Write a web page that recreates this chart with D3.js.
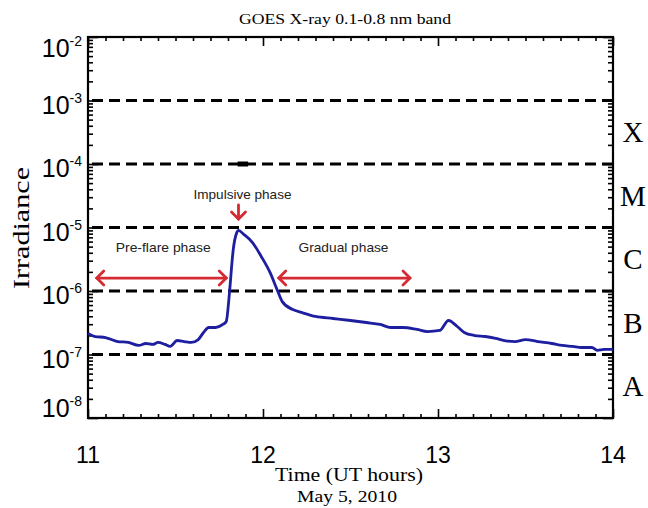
<!DOCTYPE html>
<html><head><meta charset="utf-8">
<script src="https://cdn.jsdelivr.net/npm/d3@7"></script>
<style>body{margin:0;background:#fff}svg{display:block}</style>
</head><body>
<svg id="c" width="648" height="508"></svg>
<script>
// ---- data ----
const times = [11.00,11.04,11.10,11.17,11.23,11.29,11.33,11.37,11.40,11.44,11.47,11.51,11.55,11.59,11.63,11.66,11.69,11.73,11.77,11.79,11.805,11.81,11.83,11.85,11.86,11.89,11.94,11.99,12.04,12.08,12.11,12.17,12.22,12.30,12.40,12.50,12.59,12.67,12.73,12.80,12.88,12.94,13.01,13.06,13.11,13.15,13.21,13.27,13.33,13.38,13.44,13.50,13.57,13.65,13.71,13.77,13.82,13.88,13.91,13.95,14.00];
const irradiance = [2.14e-7,1.92e-7,1.85e-7,1.60e-7,1.55e-7,1.39e-7,1.49e-7,1.44e-7,1.55e-7,1.44e-7,1.34e-7,1.66e-7,1.60e-7,1.55e-7,1.72e-7,2.22e-7,2.66e-7,2.66e-7,2.97e-7,3.31e-7,7.4e-7,1.06e-6,4.5e-6,8.3e-6,9.0e-6,7.8e-6,5.8e-6,3.5e-6,1.96e-6,1.06e-6,6.8e-7,5.1e-7,4.6e-7,3.97e-7,3.69e-7,3.43e-7,3.19e-7,2.97e-7,2.66e-7,2.66e-7,2.48e-7,2.30e-7,2.39e-7,3.43e-7,2.76e-7,2.22e-7,1.99e-7,1.92e-7,1.79e-7,1.66e-7,1.60e-7,1.72e-7,1.60e-7,1.49e-7,1.39e-7,1.34e-7,1.29e-7,1.29e-7,1.16e-7,1.20e-7,1.20e-7];
const xTicks = [11, 12, 13, 14];
const yExponents = [-2, -3, -4, -5, -6, -7, -8];
const classBoundaries = [1e-3, 1e-4, 1e-5, 1e-6, 1e-7];
const classLabels = ["X", "M", "C", "B", "A"];
const classMids = [3.16e-4, 3.16e-5, 3.16e-6, 3.16e-7, 3.16e-8];
const phases = [
  {name: "Pre-flare phase", from: 11.05, to: 11.79, level: 1.6e-6, labelAt: 11.43, width: 95},
  {name: "Gradual phase", from: 12.09, to: 12.84, level: 1.6e-6, labelAt: 12.46, width: 90}
];
const impulsive = {name: "Impulsive phase", at: 11.86, width: 98};

// ---- layout ----
const L = 88, R = 613, T = 37, B = 418;
const svg = d3.select("#c");
const x = d3.scaleLinear().domain([11, 14]).range([L, R]);
const y = d3.scaleLog().domain([1e-8, 1e-2]).range([B, T]);

const red = "#d42a32";
const sans = "'Liberation Sans', Arial, sans-serif";
const serif = "'Liberation Serif', 'Times New Roman', serif";

// minor log ticks
const minorY = [];
for (let e = -8; e < -2; e++) for (let k = 2; k <= 9; k++) minorY.push(k * Math.pow(10, e));
const majorY = yExponents.map(e => Math.pow(10, e));
const minorX = d3.range(110, 141).map(v => v / 10).filter(v => !xTicks.includes(v));

// dashed class boundaries
svg.append("g").selectAll("line").data(classBoundaries).join("line")
  .attr("x1", L + 4).attr("x2", R).attr("y1", d => y(d)).attr("y2", d => y(d))
  .attr("stroke", "#000").attr("stroke-width", 3).attr("stroke-dasharray", "11,6");
// small thick mark on 1e-4 line
svg.append("line").attr("x1", x(11.855)).attr("x2", x(11.915)).attr("y1", y(1e-4)).attr("y2", y(1e-4))
  .attr("stroke", "#000").attr("stroke-width", 5);

function axisStyle(g) {
  g.select(".domain").remove();
  g.selectAll("line").attr("stroke", "#000").attr("stroke-width", 1.6);
  g.selectAll("text").remove();
}
svg.append("g").attr("transform", `translate(0,${B})`).call(d3.axisBottom(x).tickValues(xTicks).tickSize(-9)).call(axisStyle);
svg.append("g").attr("transform", `translate(0,${B})`).call(d3.axisBottom(x).tickValues(minorX).tickSize(-4)).call(axisStyle);
svg.append("g").attr("transform", `translate(0,${T})`).call(d3.axisTop(x).tickValues(xTicks).tickSize(-9)).call(axisStyle);
svg.append("g").attr("transform", `translate(0,${T})`).call(d3.axisTop(x).tickValues(minorX).tickSize(-4)).call(axisStyle);
svg.append("g").attr("transform", `translate(${L},0)`).call(d3.axisLeft(y).tickValues(majorY).tickSize(-10)).call(axisStyle);
svg.append("g").attr("transform", `translate(${L},0)`).call(d3.axisLeft(y).tickValues(minorY).tickSize(-5)).call(axisStyle);
svg.append("g").attr("transform", `translate(${R},0)`).call(d3.axisRight(y).tickValues(majorY).tickSize(-10)).call(axisStyle);
svg.append("g").attr("transform", `translate(${R},0)`).call(d3.axisRight(y).tickValues(minorY).tickSize(-5)).call(axisStyle);

// frame
svg.append("rect").attr("x", L).attr("y", T).attr("width", R - L).attr("height", B - T)
  .attr("fill", "none").attr("stroke", "#000").attr("stroke-width", 2.2);

// curve
const line = d3.line().x((d, i) => x(times[i])).y(d => y(d)).curve(d3.curveMonotoneX);
svg.append("path").attr("d", line(irradiance)).attr("fill", "none")
  .attr("stroke", "#1e1ea0").attr("stroke-width", 2.8).attr("stroke-linejoin", "round");

// y tick labels
const yl = svg.append("g").selectAll("text").data(yExponents).join("text")
  .attr("x", 82).attr("y", (d, i) => {
    const p = y(Math.pow(10, d));
    if (i === 0) return p + 20;
    if (i === yExponents.length - 1) return p - 1;
    return p + 13;
  })
  .attr("text-anchor", "end").attr("font-family", sans).attr("font-size", 25).attr("fill", "#000");
yl.append("tspan").text("10");
yl.append("tspan").attr("dy", -11).attr("font-size", 14).text(d => "-" + Math.abs(d));

// x tick labels
svg.append("g").selectAll("text").data(xTicks).join("text")
  .attr("x", d => x(d)).attr("y", 463).attr("text-anchor", "middle")
  .attr("font-family", sans).attr("font-size", 23).attr("fill", "#000").text(d => d);

// class letters
svg.append("g").selectAll("text").data(classLabels).join("text")
  .attr("x", 633).attr("y", (d, i) => y(classMids[i]) + 10).attr("text-anchor", "middle")
  .attr("font-family", serif).attr("font-size", 29).attr("fill", "#000").text(d => d);

// titles
svg.append("text").attr("x", 345).attr("y", 24).attr("text-anchor", "middle")
  .attr("font-family", serif).attr("font-size", 15).attr("textLength", 212).attr("lengthAdjust", "spacingAndGlyphs")
  .text("GOES X-ray 0.1-0.8 nm band");
svg.append("text").attr("transform", "translate(29,228) rotate(-90)").attr("text-anchor", "middle")
  .attr("font-family", serif).attr("font-size", 23).attr("textLength", 122).attr("lengthAdjust", "spacingAndGlyphs")
  .text("Irradiance");
svg.append("text").attr("x", 349).attr("y", 481).attr("text-anchor", "middle")
  .attr("font-family", serif).attr("font-size", 19).attr("textLength", 148).attr("lengthAdjust", "spacingAndGlyphs")
  .text("Time (UT hours)");
svg.append("text").attr("x", 347).attr("y", 502).attr("text-anchor", "middle")
  .attr("font-family", serif).attr("font-size", 17).attr("textLength", 100).attr("lengthAdjust", "spacingAndGlyphs")
  .text("May 5, 2010");

// annotations
const ann = svg.append("g").attr("stroke", red).attr("stroke-width", 2.8).attr("fill", "none").attr("stroke-linecap", "round");
function head(px, py, dir) {
  const s = 7;
  let pts;
  if (dir === "l") pts = [[px + s, py - s], [px, py], [px + s, py + s]];
  if (dir === "r") pts = [[px - s, py - s], [px, py], [px - s, py + s]];
  if (dir === "d") pts = [[px - s, py - s], [px, py], [px + s, py - s]];
  ann.append("polyline").attr("points", pts.map(p => p.join(",")).join(" "));
}
phases.forEach(p => {
  const yy = y(p.level), x1 = x(p.from), x2 = x(p.to);
  ann.append("line").attr("x1", x1).attr("x2", x2).attr("y1", yy).attr("y2", yy);
  head(x1, yy, "l"); head(x2, yy, "r");
  svg.append("text").attr("x", x(p.labelAt)).attr("y", 252).attr("text-anchor", "middle")
    .attr("font-family", sans).attr("font-size", 13).attr("fill", "#222")
    .attr("textLength", p.width).attr("lengthAdjust", "spacingAndGlyphs").text(p.name);
});
ann.append("line").attr("x1", x(impulsive.at)).attr("x2", x(impulsive.at)).attr("y1", 205).attr("y2", 219);
head(x(impulsive.at), 219, "d");
svg.append("text").attr("x", x(impulsive.at) + 4).attr("y", 199).attr("text-anchor", "middle")
  .attr("font-family", sans).attr("font-size", 13).attr("fill", "#222")
  .attr("textLength", impulsive.width).attr("lengthAdjust", "spacingAndGlyphs").text(impulsive.name);
</script>
</body></html>
